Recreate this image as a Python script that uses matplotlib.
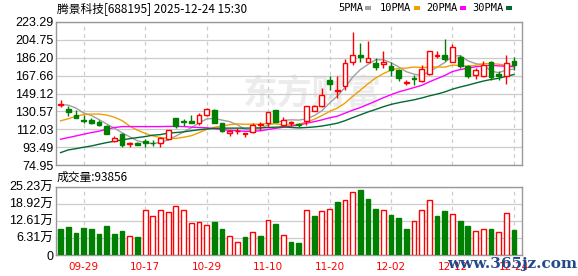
import matplotlib
matplotlib.use("Agg")
import matplotlib.pyplot as plt
import numpy as np
import pandas as pd

# ---------------- data ----------------
opens = [137.5, 133.3, 127.3, 122.1, 122.1, 120.0, 115.9, 99.6, 106.9, 96.9,
         98.2, 99.6, 98.2, 98.2, 101.7, 123.2, 120.2, 120.3, 119.0, 126.7,
         132.2, 118.7, 108.0, 110.0, 107.0, 109.6, 116.8, 118.4, 131.9, 116.6,
         118.4, 117.0, 120.1, 131.2, 136.4, 163.2, 152.0, 157.3, 181.9, 189.1,
         181.9, 181.0, 180.2, 177.8, 174.0, 160.5, 165.3, 161.7, 169.4, 187.7,
         189.5, 181.9, 186.8, 177.4, 168.7, 167.0, 181.9, 169.4, 167.0, 182.5]
highs = [141.9, 135.7, 131.5, 127.0, 123.9, 121.8, 116.6, 105.2, 108.0, 98.3,
         98.9, 102.3, 101.0, 104.4, 111.1, 124.2, 122.5, 127.3, 128.8, 133.6,
         133.0, 119.0, 111.4, 113.2, 108.3, 119.0, 119.7, 129.8, 132.2, 124.6,
         120.5, 118.0, 136.4, 137.5, 154.8, 167.0, 167.6, 185.2, 213.2, 201.0,
         203.4, 186.1, 193.0, 181.5, 175.0, 163.5, 168.7, 179.1, 193.7, 193.0,
         205.2, 200.0, 188.8, 178.4, 175.8, 182.5, 182.5, 172.1, 189.5, 186.8]
lows = [135.0, 125.3, 123.6, 118.4, 117.7, 115.9, 106.9, 98.9, 94.0, 93.4,
        95.4, 94.0, 95.1, 94.0, 101.0, 113.8, 115.6, 118.0, 116.6, 125.3,
        118.4, 109.6, 105.5, 107.2, 104.4, 108.0, 111.4, 114.2, 119.7, 114.8,
        115.9, 114.5, 116.6, 130.5, 134.6, 153.1, 144.4, 153.1, 178.4, 181.9,
        181.9, 174.0, 175.8, 167.0, 161.7, 157.6, 157.6, 161.1, 168.7, 186.1,
        182.5, 181.9, 175.8, 165.3, 164.5, 166.3, 163.5, 163.5, 159.3, 174.0]
closes = [138.2, 129.8, 124.0, 120.6, 119.0, 116.9, 106.9, 102.8, 96.1, 98.2,
          96.1, 97.5, 97.5, 102.8, 111.1, 115.9, 119.4, 118.6, 127.0, 133.0,
          118.4, 110.7, 110.7, 110.7, 108.0, 116.6, 117.8, 129.8, 120.0, 122.1,
          119.4, 116.3, 136.4, 136.4, 147.5, 159.0, 152.6, 181.0, 189.5, 187.1,
          186.1, 176.8, 181.3, 174.0, 165.3, 161.1, 164.2, 174.7, 193.7, 188.8,
          184.6, 197.6, 177.4, 167.0, 174.0, 178.4, 166.3, 167.5, 181.0, 179.1]

# volume in 万 (10k shares)
volumes = [9.75, 10.37, 8.27, 10.12, 9.5, 7.9, 10.5, 7.9, 9.0, 7.04,
           6.79, 16.4, 14.4, 16.4, 16.0, 18.1, 16.4, 11.85, 12.2, 11.1,
           12.0, 9.75, 7.04, 4.8, 6.8, 8.5, 7.16, 12.96, 11.6, 7.4,
           4.94, 4.57, 16.4, 14.2, 16.05, 17.0, 19.5, 20.4, 23.1, 23.8,
           20.5, 16.8, 16.4, 14.6, 13.8, 9.4, 12.7, 16.4, 20.4, 14.2,
           16.05, 15.2, 12.7, 10.5, 9.0, 9.4, 9.4, 8.3, 15.3, 9.3856]
# 1 = up day (red), 0 = down day (green)
vol_up = [0, 0, 0, 0, 0, 0, 0, 0, 0, 1,
          0, 1, 1, 1, 1, 1, 1, 1, 1, 1,
          0, 0, 1, 1, 0, 1, 0, 1, 0, 1,
          0, 0, 1, 0, 1, 1, 0, 1, 1, 0,
          0, 0, 1, 0, 0, 0, 1, 1, 1, 0,
          0, 1, 0, 0, 1, 1, 0, 1, 1, 0]

# moving-average values before the window is complete
ma5_head = [137.4, 137.1, 134.0, 128.8]
ma10_head = [120.8, 122.9, 125.5, 127.3, 127.8, 127.8, 126.7, 124.5, 121.0]
ma20_head = [101.7, 103.4, 105.1, 106.9, 108.6, 110.0, 112.1, 113.8, 114.8, 114.8,
             114.8, 114.8, 114.8, 114.8, 115.0, 115.0, 114.8, 114.3, 113.8]
ma30_head = [87.8, 90.6, 91.9, 93.4, 94.7, 96.5, 98.2, 99.6, 101.0, 102.3,
             103.4, 104.4, 105.9, 106.5, 108.0, 108.6, 109.3, 110.5, 111.5, 112.3,
             113.0, 113.2, 113.2, 113.2, 113.2, 113.3, 113.5, 113.8, 114.2]

date_ticks_idx = [3, 11, 19, 27, 35, 43, 51, 59]
date_labels = ["09-29", "10-17", "10-29", "11-10", "11-20", "12-02", "12-12", "12-24"]
price_ticks = [74.95, 93.49, 112.03, 130.57, 149.12, 167.66, 186.20, 204.75, 223.29]
vol_ticks = [0, 6.31, 12.61, 18.92, 25.23]
vol_tick_labels = ["0", "6.31万", "12.61万", "18.92万", "25.23万"]
title = "腾景科技[688195] 2025-12-24 15:30"
vol_title = "成交量:93856"
ma_names = ["5PMA", "10PMA", "20PMA", "30PMA"]
ma_colors = ["#a0a0a0", "#f0a000", "#ff00ff", "#006a30"]

# ---------------- figure ----------------
W, H = 578, 276
fig = plt.figure(figsize=(W / 100, H / 100), dpi=100)
fig.patch.set_facecolor("white")

L, R = 56, 522
ax = fig.add_axes([L / W, 1 - 165 / H, (R - L) / W, (165 - 22) / H])
axv = fig.add_axes([L / W, 1 - 255 / H, (R - L) / W, (255 - 186.5) / H])

n = len(closes)
x = np.arange(n)
o = np.array(opens); c = np.array(closes); hi = np.array(highs); lo = np.array(lows)
up = c >= o
RED = "#ff0000"; GREEN = "#008000"
grid_c = "#cccccc"; frame_c = "#999999"

for a in (ax, axv):
    a.set_xlim(-0.6, 60.05)
    for s in a.spines.values():
        s.set_color(frame_c)
        s.set_linewidth(1.0)
    a.tick_params(length=0)
    a.set_xticks(date_ticks_idx)
    a.xaxis.grid(True, color=grid_c, linestyle=(0, (3, 3)), linewidth=0.9)
    a.yaxis.grid(True, color=grid_c, linestyle="-", linewidth=0.9)
    a.set_axisbelow(True)

# watermark
ax.text(0.55, 0.5, "东方财富", transform=ax.transAxes, ha="center", va="center",
        fontsize=25, fontweight="bold", color="#ececec",
        family=["Noto Sans CJK SC", "DejaVu Sans"], zorder=0.5)

# price panel
ax.set_ylim(price_ticks[0], price_ticks[-1])
ax.set_yticks(price_ticks)
ax.set_yticklabels([f"{t:.2f}" for t in price_ticks], fontsize=9,
                   family="Liberation Sans", color="#000000")
ax.tick_params(axis="y", pad=2)
ax.set_xticklabels([])

# moving averages
cs = pd.Series(closes)
def ma(head, w):
    vals = cs.rolling(w).mean().to_numpy()
    return np.concatenate([np.array(head), vals[w - 1:]])
mas = [ma(ma5_head, 5), ma(ma10_head, 10), ma(ma20_head, 20), ma(ma30_head, 30)]
for m, col in zip(mas, ma_colors):
    ax.plot(x, m, color=col, linewidth=1.0, zorder=2)

# candles
ax.vlines(x, lo, hi, colors=[RED if u else GREEN for u in up], linewidth=1.0, zorder=3)
body_bottom = np.minimum(o, c)
body_h = np.maximum(np.abs(c - o), 0.4)
ax.bar(x, body_h, bottom=body_bottom, width=0.62,
       facecolor=["white" if u else GREEN for u in up],
       edgecolor=[RED if u else GREEN for u in up], linewidth=1.0, zorder=4)

# volume panel
axv.set_ylim(vol_ticks[0], vol_ticks[-1])
axv.set_yticks(vol_ticks)
axv.set_yticklabels(vol_tick_labels, fontsize=9,
                    family=["Liberation Sans", "Noto Sans CJK SC"], color="#000000")
axv.tick_params(axis="y", pad=2)
axv.set_xticklabels(date_labels, fontsize=7.5, color=RED, family="DejaVu Sans")
axv.tick_params(axis="x", pad=5)
vu = np.array(vol_up) == 1
axv.bar(x, volumes, width=0.62,
        facecolor=["white" if u else GREEN for u in vu],
        edgecolor=[RED if u else GREEN for u in vu], linewidth=1.0, zorder=3)

# texts
fig.text(57 / W, 1 - 9 / H, title, ha="left", va="center", fontsize=8.5,
         family=["Noto Sans CJK SC", "DejaVu Sans"], color="#000000")
fig.text(57 / W, 1 - 177.5 / H, vol_title, ha="left", va="center", fontsize=8.5,
         family=["Noto Sans CJK SC", "DejaVu Sans"], color="#000000")

# legend
lx = [338, 380, 426, 472]
for name, col, px in zip(ma_names, ma_colors, lx):
    t = fig.text(px / W, 1 - 8 / H, name, ha="left", va="center", fontsize=7.5,
                 family="DejaVu Sans Mono", color="#000000")
    wlen = len(name) * 6.3
    fig.patches.append(matplotlib.patches.Rectangle(((px + wlen + 2) / W, 1 - 10 / H),
                       6 / W, 4 / H, transform=fig.transFigure, facecolor=col,
                       edgecolor="none"))

# site watermark
fig.text(512 / W, 1 - 264 / H, "www.365jz.com", ha="center", va="center",
         fontsize=11, fontweight="bold", family="DejaVu Serif", color="#24498a",
         zorder=10)

fig.savefig("out.png", dpi=100, facecolor="white")
